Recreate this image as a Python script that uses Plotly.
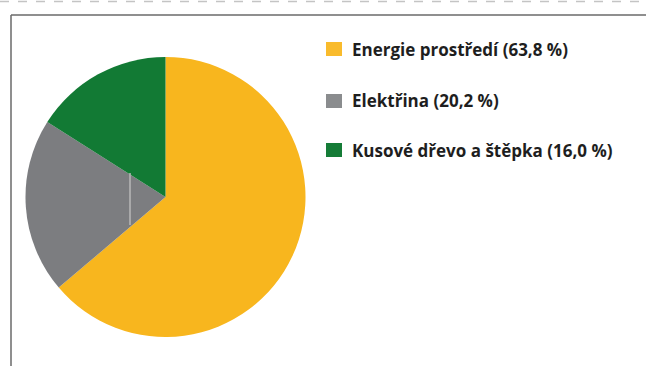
import plotly.graph_objects as go

# Heat sources share
labels = ["Energie prostředí", "Elektřina", "Kusové dřevo a štěpka"]
shares = [63.8, 20.2, 16.0]
colors = ["#F8B61E", "#7C7D80", "#127A34"]
legend_colors = ["#F9BB2C", "#8A8C8E", "#157C37"]

W, H = 646, 366


def px_x(x):
    return x / W


def px_y(y):
    return 1 - y / H


fig = go.Figure()
fig.add_trace(go.Pie(
    labels=labels,
    values=shares,
    sort=False,
    direction="clockwise",
    rotation=0,
    marker=dict(colors=colors, line=dict(width=0)),
    textinfo="none",
    hoverinfo="label+percent",
    showlegend=False,
    domain=dict(x=[px_x(25), px_x(306)], y=[px_y(337), px_y(57)]),
))

shapes = []
annotations = []

# Custom legend: square swatch + bold label with the percentage
row_y = [49, 101, 150]
for lab, val, col, yc in zip(labels, shares, legend_colors, row_y):
    shapes.append(dict(
        type="rect", xref="paper", yref="paper",
        x0=px_x(326), x1=px_x(342), y0=px_y(yc + 7), y1=px_y(yc - 7),
        fillcolor=col, line=dict(width=0),
    ))
    text = f"{lab} ({val:.1f} %)".replace(".", ",")
    annotations.append(dict(
        text=f"<b>{text}</b>", xref="paper", yref="paper",
        x=px_x(350), y=px_y(yc), xanchor="left", yanchor="middle",
        showarrow=False, font=dict(family="Open Sans", size=17, color="#1e1e1e"),
    ))

# Frame around the chart area
shapes.append(dict(type="line", xref="paper", yref="paper",
                   x0=px_x(11), x1=1, y0=px_y(15), y1=px_y(15),
                   line=dict(color="#6a6a6a", width=1.5)))
shapes.append(dict(type="line", xref="paper", yref="paper",
                   x0=px_x(11), x1=px_x(11), y0=px_y(15), y1=0,
                   line=dict(color="#6a6a6a", width=1.5)))
# Faint rule along the top edge
shapes.append(dict(type="line", xref="paper", yref="paper",
                   x0=0, x1=1, y0=px_y(1.5), y1=px_y(1.5),
                   line=dict(color="#c4c4c4", width=1.5, dash="dash")))
# Thin light rule across the grey slice
shapes.append(dict(type="line", xref="paper", yref="paper",
                   x0=px_x(130), x1=px_x(130), y0=px_y(173), y1=px_y(225),
                   line=dict(color="#b8b8b8", width=1.5)))

fig.update_layout(
    width=W, height=H,
    margin=dict(l=0, r=0, t=0, b=0),
    paper_bgcolor="white",
    plot_bgcolor="white",
    shapes=shapes,
    annotations=annotations,
)

fig.write_html("out.html")
